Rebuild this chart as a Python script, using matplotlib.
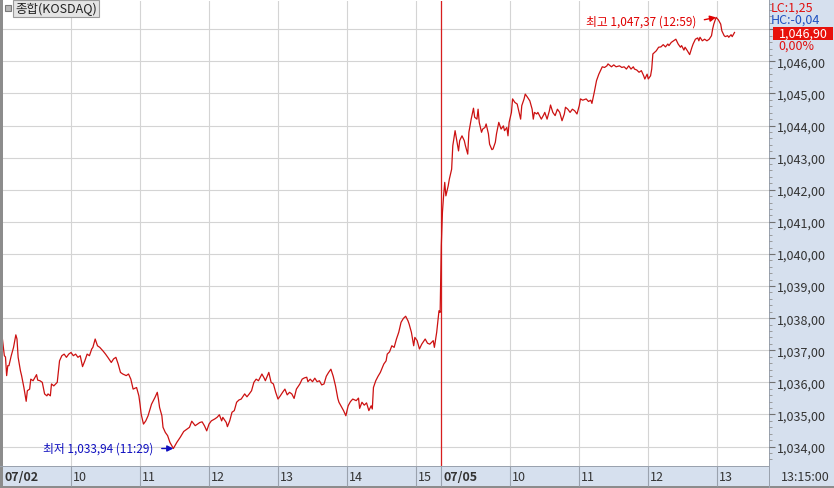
import matplotlib
matplotlib.use('Agg')
import matplotlib.pyplot as plt
import numpy as np
from matplotlib import transforms
from matplotlib.patches import Rectangle
from matplotlib.ticker import MultipleLocator, FuncFormatter

plt.rcParams['font.family'] = ['Noto Sans CJK KR', 'DejaVu Sans']

# KOSDAQ composite, 1-minute closes
# 07/02 session: minutes after 09:00
day1_min = [
    0, 2, 3, 4, 5, 6, 8, 10, 12, 13,
    14, 16, 17, 19, 21, 22, 24, 25, 27, 30,
    31, 33, 35, 37, 39, 40, 42, 43, 45, 48,
    50, 52, 54, 56, 58, 60, 62, 64, 66, 68,
    70, 72, 74, 76, 78, 79, 81, 83, 85, 88,
    90, 92, 95, 97, 99, 101, 103, 105, 108, 110,
    112, 114, 117, 119, 120, 121, 123, 125, 127, 130,
    133, 135, 136, 137, 139, 140, 142, 144, 146, 149,
    152, 155, 158, 161, 163, 165, 168, 170, 172, 174,
    176, 178, 180, 182, 185, 187, 189, 191, 192, 195,
    196, 198, 200, 202, 204, 206, 208, 211, 213, 215,
    217, 219, 221, 223, 226, 228, 229, 232, 234, 236,
    238, 240, 242, 244, 246, 248, 250, 252, 254, 256,
    259, 261, 263, 265, 266, 268, 270, 272, 274, 276,
    278, 280, 282, 284, 286, 288, 290, 292, 293, 295,
    297, 299, 301, 303, 305, 308, 310, 311, 313, 315,
    317, 319, 321, 322, 323, 325, 327, 329, 332, 334,
    335, 337, 339, 341, 343, 345, 347, 349, 351, 353,
    354, 356, 358, 359, 361, 363, 365, 368, 370, 372,
    375, 376, 378, 380, 381,
]
day1_val = [
    1037.45, 1036.83, 1036.79, 1036.21, 1036.52, 1036.52, 1036.83, 1037.09, 1037.48, 1037.35,
    1036.78, 1036.36, 1036.21, 1035.84, 1035.41, 1035.74, 1035.79, 1036.10, 1036.05, 1036.24,
    1036.07, 1036.05, 1036.00, 1035.64, 1035.58, 1035.64, 1035.58, 1035.95, 1035.89, 1036.00,
    1036.67, 1036.83, 1036.88, 1036.78, 1036.88, 1036.93, 1036.83, 1036.88, 1036.78, 1036.83,
    1036.49, 1036.67, 1036.88, 1036.83, 1037.04, 1037.09, 1037.35, 1037.14, 1037.09, 1036.97,
    1036.88, 1036.78, 1036.62, 1036.73, 1036.78, 1036.57, 1036.31, 1036.26, 1036.21, 1036.26,
    1036.10, 1035.79, 1035.84, 1035.58, 1035.32, 1035.01, 1034.70, 1034.80, 1034.96, 1035.32,
    1035.53, 1035.69, 1035.48, 1035.22, 1034.96, 1034.60, 1034.44, 1034.34, 1034.13, 1033.94,
    1034.13, 1034.29, 1034.47, 1034.55, 1034.60, 1034.79, 1034.65, 1034.70, 1034.75, 1034.77,
    1034.65, 1034.49, 1034.70, 1034.80, 1034.86, 1034.91, 1034.99, 1034.80, 1034.91, 1034.75,
    1034.62, 1034.80, 1035.07, 1035.12, 1035.38, 1035.45, 1035.48, 1035.64, 1035.55, 1035.64,
    1035.74, 1036.00, 1036.10, 1036.05, 1036.26, 1036.13, 1036.05, 1036.31, 1036.00, 1035.95,
    1035.69, 1035.48, 1035.58, 1035.69, 1035.79, 1035.61, 1035.69, 1035.64, 1035.50, 1035.79,
    1035.95, 1036.10, 1036.14, 1036.16, 1036.02, 1036.10, 1036.02, 1036.13, 1036.02, 1036.05,
    1035.92, 1035.95, 1036.19, 1036.31, 1036.41, 1036.19, 1035.89, 1035.50, 1035.38, 1035.25,
    1035.12, 1034.96, 1035.27, 1035.40, 1035.48, 1035.43, 1035.51, 1035.19, 1035.38, 1035.29,
    1035.36, 1035.12, 1035.27, 1035.17, 1035.84, 1036.05, 1036.19, 1036.31, 1036.57, 1036.67,
    1036.88, 1036.95, 1037.14, 1037.09, 1037.35, 1037.56, 1037.87, 1037.99, 1038.06, 1037.92,
    1037.82, 1037.56, 1037.14, 1037.40, 1037.30, 1037.04, 1037.19, 1037.35, 1037.22, 1037.19,
    1037.30, 1037.09, 1037.56, 1038.23, 1038.18,
]

# 07/05 session: minutes after 09:00
day2_min = [
    0, 1, 2, 3, 4, 6, 7, 9, 10, 12,
    13, 15, 16, 18, 20, 21, 23, 24, 26, 28,
    29, 31, 32, 33, 35, 36, 38, 39, 41, 42,
    44, 45, 47, 48, 50, 51, 52, 54, 55, 57,
    58, 59, 61, 62, 64, 66, 67, 69, 70, 72,
    73, 75, 77, 79, 80, 81, 83, 84, 87, 89,
    90, 92, 94, 95, 97, 99, 101, 103, 105, 107,
    108, 110, 112, 114, 116, 118, 120, 121, 123, 126,
    128, 130, 131, 133, 135, 137, 140, 142, 144, 145,
    148, 150, 152, 155, 157, 159, 161, 163, 165, 167,
    168, 170, 172, 174, 176, 177, 179, 180, 182, 183,
    184, 187, 189, 191, 193, 195, 197, 198, 200, 202,
    204, 206, 208, 209, 211, 212, 214, 216, 218, 219,
    221, 223, 224, 225, 227, 229, 231, 233, 235, 236,
    237, 239, 241, 243, 244, 246, 247, 249, 250, 252,
    253, 255,
]
day2_val = [
    1040.25, 1041.30, 1041.81, 1042.23, 1041.81, 1042.12, 1042.33, 1042.64, 1043.37, 1043.84,
    1043.63, 1043.21, 1043.53, 1043.68, 1043.53, 1043.37, 1043.11, 1043.79, 1044.20, 1044.54,
    1044.26, 1044.20, 1044.51, 1044.10, 1043.79, 1043.89, 1043.94, 1044.05, 1043.74, 1043.42,
    1043.25, 1043.27, 1043.48, 1043.74, 1044.10, 1043.99, 1043.89, 1043.99, 1043.84, 1043.94,
    1043.68, 1044.10, 1044.41, 1044.83, 1044.72, 1044.67, 1044.51, 1044.20, 1044.62, 1044.83,
    1044.98, 1044.88, 1044.77, 1044.51, 1044.20, 1044.41, 1044.36, 1044.41, 1044.20, 1044.33,
    1044.41, 1044.20, 1044.46, 1044.64, 1044.41, 1044.31, 1044.51, 1044.41, 1044.15, 1044.36,
    1044.57, 1044.51, 1044.41, 1044.51, 1044.46, 1044.36, 1044.62, 1044.83, 1044.79, 1044.83,
    1044.75, 1044.79, 1044.69, 1045.03, 1045.40, 1045.60, 1045.83, 1045.81, 1045.86, 1045.92,
    1045.83, 1045.89, 1045.83, 1045.86, 1045.81, 1045.83, 1045.76, 1045.86, 1045.76, 1045.83,
    1045.76, 1045.73, 1045.66, 1045.71, 1045.55, 1045.45, 1045.60, 1045.45, 1045.55, 1045.76,
    1046.23, 1046.33, 1046.44, 1046.45, 1046.52, 1046.45, 1046.54, 1046.49, 1046.59, 1046.64,
    1046.69, 1046.54, 1046.44, 1046.49, 1046.35, 1046.44, 1046.33, 1046.21, 1046.44, 1046.54,
    1046.69, 1046.73, 1046.64, 1046.75, 1046.64, 1046.69, 1046.64, 1046.69, 1046.80, 1047.01,
    1047.16, 1047.37, 1047.29, 1047.16, 1046.95, 1046.80, 1046.77, 1046.80, 1046.75, 1046.83,
    1046.77, 1046.90,
]

day_labels = ['07/02', '07/05']
day1_hours = [10, 11, 12, 13, 14, 15]
day2_hours = [10, 11, 12, 13]
title = '종합(KOSDAQ)'
lc_text = 'LC:1,25'
hc_text = 'HC:-0,04'
change_text = '0,00%'

DAY2_START = 382          # bar slot where the 07/05 session opens
W, H = 834, 489
PANEL_BG = '#d6e0ee'
LINE_RED = '#cc1111'


def krw(v):
    return f'{v:,.2f}'.replace('.', ',')


def hhmm(minutes):
    return f'{9 + minutes // 60:02d}:{minutes % 60:02d}'


fig = plt.figure(figsize=(W / 100, H / 100), dpi=100)
fig.patch.set_facecolor('white')


def fx(x):
    return x / W


def fy(y):
    return 1 - y / H


def box(x0, y0, x1, y1, **kw):
    kw.setdefault('zorder', -1)
    fig.patches.append(Rectangle((fx(x0), fy(y1)), (x1 - x0) / W, (y1 - y0) / H,
                                 transform=fig.transFigure, figure=fig, **kw))


# panels and frame
box(769, 0, 834, 489, fc=PANEL_BG, ec='none')
box(0, 467, 769, 487, fc=PANEL_BG, ec='none')
box(0, 0, 2.5, 489, fc='#8c8c8c', ec='none')
box(0, 487, 834, 489, fc='#8c8c8c', ec='none')
box(0, 0, 834, 1, fc='#b4b4b4', ec='none')
box(769, 0, 770, 489, fc='#9aa2ae', ec='none')
box(0, 466.5, 769, 467.5, fc='#9aa2ae', ec='none')

ax = fig.add_axes([fx(2.5), fy(466.5), (769 - 2.5) / W, (466.5 - 2) / H])
for s in ax.spines.values():
    s.set_visible(False)

x = np.array(day1_min + [DAY2_START + m for m in day2_min])
y = np.array(day1_val + day2_val)
ax.plot(x, y, color=LINE_RED, lw=0.9, zorder=3)
ax.axvline(DAY2_START, color='#d81e1e', lw=0.9, zorder=2)

ax.set_xlim(0.4, 667)
ax.set_ylim(1033.41, 1047.88)

hour_pos = [60 * (h - 9) for h in day1_hours] + [DAY2_START + 60 * (h - 9) for h in day2_hours]
ax.set_xticks(hour_pos + [DAY2_START])
ax.tick_params(axis='x', direction='out', length=14.5, width=0.8, color='#9aa2ae',
               labelbottom=False)

ax.yaxis.tick_right()
ax.yaxis.set_major_locator(MultipleLocator(1))
ax.yaxis.set_minor_locator(MultipleLocator(0.2))
ax.yaxis.set_major_formatter(FuncFormatter(lambda v, p: krw(v) if v < 1046.5 else ''))
ax.tick_params(axis='y', which='major', length=4, width=0.8, color='#707070',
               labelsize=9, labelcolor='#333333', pad=2)
ax.tick_params(axis='y', which='minor', length=2, width=0.6, color='#909090')
ax.grid(True, which='major', color='#d4d4d4', lw=0.8, zorder=0)

# x labels in the bottom band
band = transforms.offset_copy(
    transforms.blended_transform_factory(ax.transData, fig.transFigure),
    fig=fig, x=2, y=0, units='dots')
for pos, lab in zip([0, DAY2_START], day_labels):
    ax.text(pos, fy(477.5), lab, transform=band, ha='left', va='center',
            fontsize=9, fontweight='bold', color='#333333')
for pos, h in zip(hour_pos, day1_hours + day2_hours):
    ax.text(pos, fy(477.5), str(h), transform=band, ha='left', va='center',
            fontsize=9, color='#333333')

# high / low markers
hi = int(np.argmax(y))
lo = int(np.argmin(y))
hi_min = x[hi] - DAY2_START if x[hi] >= DAY2_START else x[hi]
lo_min = x[lo] - DAY2_START if x[lo] >= DAY2_START else x[lo]
ax.annotate(f'최고 {krw(y[hi])} ({hhmm(hi_min)})', xy=(x[hi], y[hi]), xytext=(-20, -4),
            textcoords='offset pixels', ha='right', va='center', fontsize=8.5,
            color='#e00000',
            arrowprops=dict(arrowstyle='-|>', color='#e00000', lw=1, shrinkA=4,
                            shrinkB=0, mutation_scale=9, relpos=(1, 0.5)))
ax.annotate(f'최저 {krw(y[lo])} ({hhmm(lo_min)})', xy=(x[lo], y[lo]), xytext=(-20, 0),
            textcoords='offset pixels', ha='right', va='center', fontsize=8.5,
            color='#1010c0',
            arrowprops=dict(arrowstyle='-|>', color='#1010c0', lw=1, shrinkA=4,
                            shrinkB=0, mutation_scale=9, relpos=(1, 0.5)))

# title tag
box(5, 5.5, 10.5, 11.5, fc='#b8b8b8', ec='#7a7a7a', lw=0.8, zorder=4)
fig.text(fx(15), fy(9.5), title, fontsize=9, ha='left', va='center', color='#222222',
         bbox=dict(boxstyle='square,pad=0.15', fc='#e4e4e4', ec='#9a9a9a', lw=0.8))

# right panel readouts
fig.text(fx(771), fy(8), lc_text, fontsize=9, color='#e01010', ha='left', va='center')
fig.text(fx(771), fy(20.5), hc_text, fontsize=9, color='#1f50c0', ha='left', va='center')
box(773, 27.5, 833, 40.5, fc='#e8120c', ec='none', zorder=4)
fig.text(fx(779), fy(34), krw(y[-1]), fontsize=9, color='white', ha='left', va='center',
         zorder=5)
fig.text(fx(778), fy(46), change_text, fontsize=9, color='#e01010', ha='left', va='center')
fig.text(fx(781), fy(477.5), hhmm(day2_min[-1]) + ':00', fontsize=9, color='#333333',
         ha='left', va='center')

fig.savefig('out.png', dpi=100)
